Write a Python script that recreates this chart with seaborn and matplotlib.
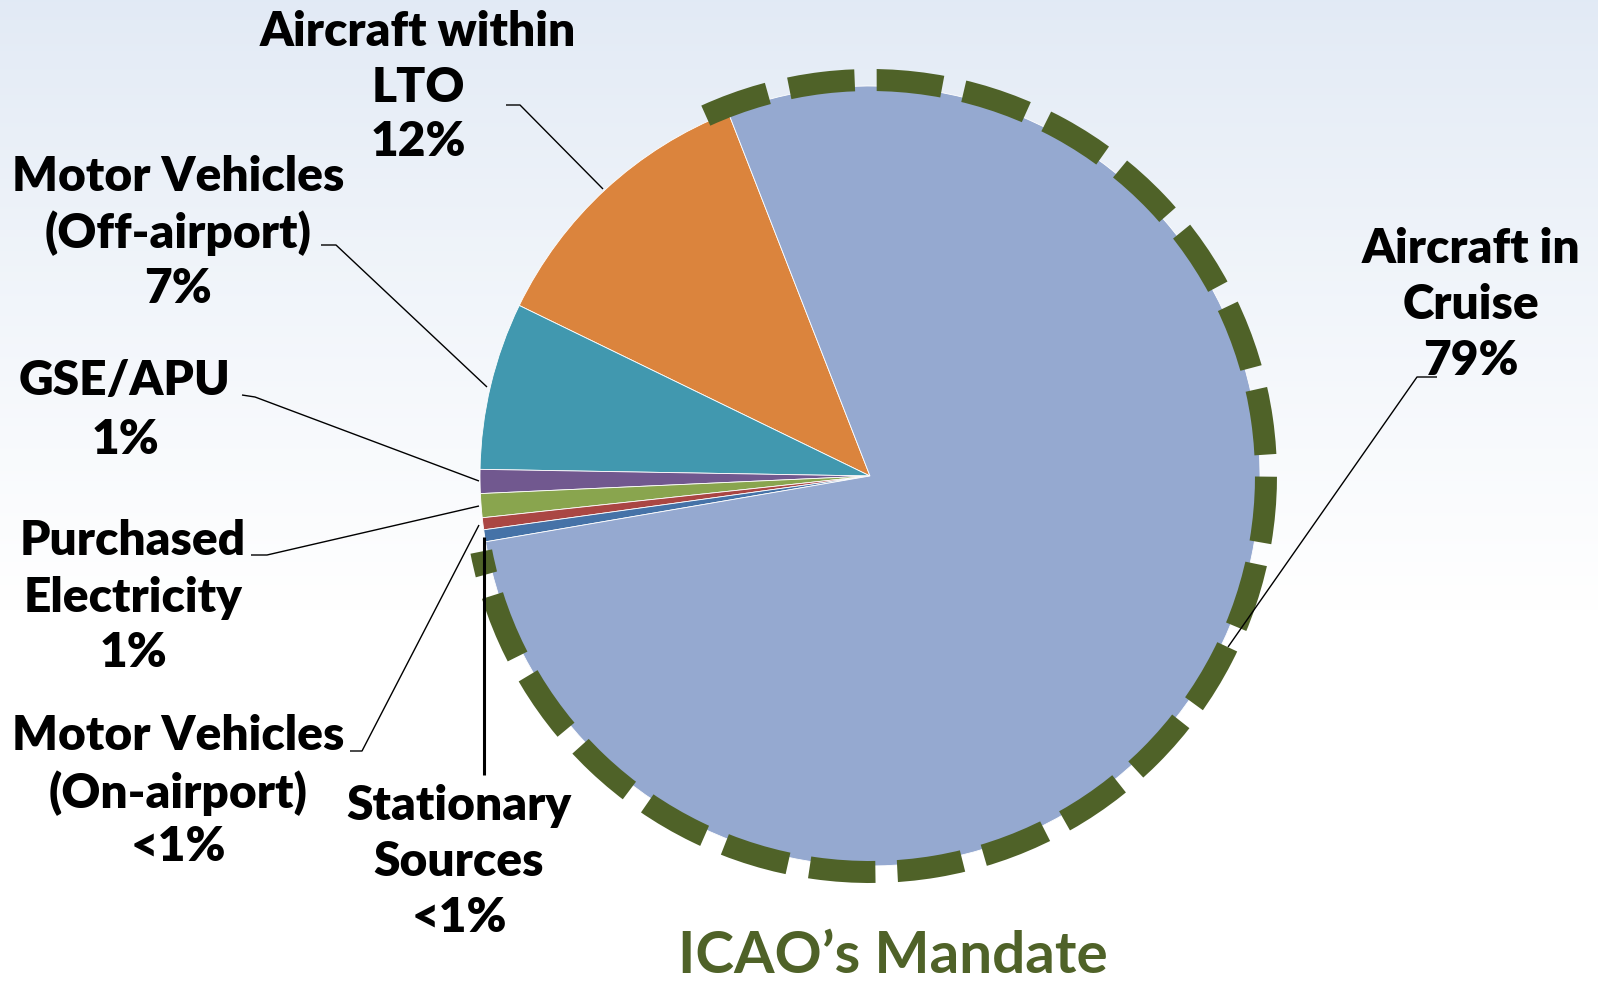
import numpy as np
import matplotlib
matplotlib.use("Agg")
import matplotlib.pyplot as plt
from matplotlib.patches import Arc
import seaborn as sns

# ---- data -------------------------------------------------------------
categories = ["Aircraft within LTO", "Motor Vehicles (Off-airport)", "GSE/APU",
              "Purchased Electricity", "Motor Vehicles (On-airport)",
              "Stationary Sources", "Aircraft in Cruise"]
shares = [12, 7, 1, 1, 0.5, 0.5, 79]
share_labels = ["12%", "7%", "1%", "1%", "<1%", "<1%", "79%"]
name_lines = [["Aircraft within", "LTO"],
              ["Motor Vehicles", "(Off-airport)"],
              ["GSE/APU"],
              ["Purchased", "Electricity"],
              ["Motor Vehicles", "(On-airport)"],
              ["Stationary", "Sources"],
              ["Aircraft in", "Cruise"]]
title = "ICAO\u2019s Mandate"

# ---- style ------------------------------------------------------------
sns.set_theme(style="white")
plt.rcParams["font.family"] = ["Lato", "DejaVu Sans"]

wedge_colors = sns.color_palette(["#DB843D", "#4198AF", "#71588F", "#89A54E",
                                  "#AA4643", "#4572A7", "#95A9D0"])
mandate_green = "#4F6228"

W, H = 1598, 982
fig = plt.figure(figsize=(W / 100, H / 100), dpi=100)
ax = fig.add_axes([0, 0, 1, 1])

# soft blue-to-white background wash
rows = np.linspace(0, 1, 400)
fade = np.clip(rows / 0.62, 0, 1) ** 0.9
top = np.array([0.886, 0.918, 0.961])
grad = top[None, :] + (1 - top)[None, :] * fade[:, None]
ax.imshow(grad[:, None, :], extent=[0, W, 0, H], aspect="auto", zorder=0,
          interpolation="bilinear")

# ---- pie --------------------------------------------------------------
cx, cy, R = 870, H - 476, 390
ax.pie(shares, colors=wedge_colors, startangle=111.3, counterclock=True,
       center=(cx, cy), radius=R,
       wedgeprops=dict(edgecolor="white", linewidth=0.6, zorder=2))

# dashed ring marking the cruise share
ring_r = 396
lw_px = 22
dash_px, gap_px = 66, 22
theta1, theta2 = -169.0, 114.5
arc_len = np.radians(theta2 - theta1) * ring_r
phase = (dash_px - arc_len) % (dash_px + gap_px)
ring = Arc((cx, cy), 2 * ring_r, 2 * ring_r, theta1=theta1, theta2=theta2,
           color=mandate_green, linewidth=lw_px * 0.72,
           linestyle=(phase / lw_px, (dash_px / lw_px, gap_px / lw_px)),
           zorder=3)
ring.set_capstyle("butt")
ax.add_patch(ring)

# ---- labels -------------------------------------------------------------
label_x = [418, 178, 125, 133, 178, 459, 1471]
label_base = [[46, 102, 156], [191, 248, 303], [395, 454], [555, 612, 667],
              [750, 808, 861], [820, 876, 932], [263, 319, 375]]
leaders = [[(506, 105), (520, 105), (603, 189)],
           [(321, 245), (336, 245), (487, 387)],
           [(242, 395), (255, 397), (479, 481)],
           [(251, 555), (267, 555), (479, 506)],
           [(350, 751), (362, 751), (479, 525)],
           [(484, 775), (484, 537)],
           [(1437, 377), (1417, 377), (1228, 647)]]
leader_w = [1.0, 1.0, 1.0, 1.0, 1.0, 2.2, 1.0]

for i in range(len(categories)):
    lines = name_lines[i] + [share_labels[i]]
    for txt, yb in zip(lines, label_base[i]):
        ax.text(label_x[i], H - yb, txt, ha="center", va="baseline",
                fontsize=34.5, fontweight="heavy", color="black", zorder=5)
    pts = leaders[i]
    ax.plot([p[0] for p in pts], [H - p[1] for p in pts], color="black",
            lw=leader_w[i], solid_capstyle="butt", zorder=4)

ax.text(893, H - 973, title, ha="center", va="baseline", fontsize=42,
        fontweight="bold", color=mandate_green, zorder=5)

ax.set_xlim(0, W)
ax.set_ylim(0, H)
ax.set_aspect("equal")
ax.set_axis_off()

fig.savefig("out.png", dpi=100)
